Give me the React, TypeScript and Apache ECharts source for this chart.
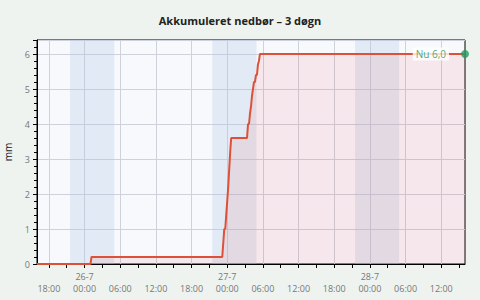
import React, { useEffect, useRef } from "react";
import * as echarts from "echarts";

const TITLE = "Akkumuleret nedbør – 3 døgn";
const X_MIN = "2024-07-25T16:00";
const X_MAX = "2024-07-28T16:00";

const times = [
  "2024-07-25T16:00", "2024-07-26T01:00", "2024-07-26T01:10", "2024-07-26T23:10",
  "2024-07-26T23:30", "2024-07-26T23:40", "2024-07-27T00:00", "2024-07-27T00:10",
  "2024-07-27T00:20", "2024-07-27T00:30", "2024-07-27T00:40", "2024-07-27T03:20",
  "2024-07-27T03:30", "2024-07-27T03:40", "2024-07-27T03:50", "2024-07-27T04:00",
  "2024-07-27T04:10", "2024-07-27T04:20", "2024-07-27T04:30", "2024-07-27T04:40",
  "2024-07-27T04:50", "2024-07-27T05:00", "2024-07-27T05:10", "2024-07-27T05:20",
  "2024-07-27T05:30", "2024-07-28T16:00",
];
const values = [
  0, 0, 0.2, 0.2,
  1.0, 1.0, 1.8, 2.2,
  2.7, 3.2, 3.6, 3.6,
  4.0, 4.0, 4.3, 4.5,
  4.8, 5.0, 5.2, 5.2,
  5.4, 5.4, 5.7, 5.8,
  6.0, 6.0,
];

const nightStarts = ["2024-07-25T21:35", "2024-07-26T21:30", "2024-07-27T21:30"];
const nightEnds = ["2024-07-26T05:00", "2024-07-27T04:55", "2024-07-28T04:55"];

// labelled (major) ticks, every 6 hours
const labelTimes = [
  "2024-07-25T18:00", "2024-07-26T00:00", "2024-07-26T06:00", "2024-07-26T12:00",
  "2024-07-26T18:00", "2024-07-27T00:00", "2024-07-27T06:00", "2024-07-27T12:00",
  "2024-07-27T18:00", "2024-07-28T00:00", "2024-07-28T06:00", "2024-07-28T12:00",
];
// tick marks, every 3 hours
const tickTimes = [
  "2024-07-25T18:00", "2024-07-25T21:00", "2024-07-26T00:00", "2024-07-26T03:00",
  "2024-07-26T06:00", "2024-07-26T09:00", "2024-07-26T12:00", "2024-07-26T15:00",
  "2024-07-26T18:00", "2024-07-26T21:00", "2024-07-27T00:00", "2024-07-27T03:00",
  "2024-07-27T06:00", "2024-07-27T09:00", "2024-07-27T12:00", "2024-07-27T15:00",
  "2024-07-27T18:00", "2024-07-27T21:00", "2024-07-28T00:00", "2024-07-28T03:00",
  "2024-07-28T06:00", "2024-07-28T09:00", "2024-07-28T12:00", "2024-07-28T15:00",
];

const Y_MAX = 6.4;

const ts = (s: string) => new Date(s).getTime();
const pad = (n: number) => (n < 10 ? "0" + n : "" + n);

export default function App() {
  const ref = useRef<HTMLDivElement>(null);
  useEffect(() => {
    document.body.style.margin = "0";
    const chart = echarts.init(ref.current!, null, { renderer: "svg" });
    const lineData = times.map((t, i) => [ts(t), values[i]]);
    const last = lineData[lineData.length - 1];
    const font = "Open Sans";
    chart.setOption({
      animation: false,
      backgroundColor: "#eef3ef",
      textStyle: { fontFamily: font },
      title: {
        text: TITLE,
        left: "center",
        top: 10,
        textStyle: { fontSize: 11, fontWeight: "bold", color: "#222", fontFamily: font },
      },
      grid: {
        left: 37,
        right: 15,
        top: 40,
        bottom: 36,
        outerBoundsMode: "none",
        containLabel: false,
        show: true,
        backgroundColor: "#f7f9fd",
        borderColor: "#000",
        borderWidth: 1,
      },
      xAxis: [
        {
          type: "value",
          min: ts(X_MIN),
          max: ts(X_MAX),
          axisLine: { show: true, onZero: false, lineStyle: { color: "#000", width: 1 } },
          axisTick: {
            show: true,
            length: 4,
            lineStyle: { color: "#000" },
            customValues: tickTimes.map(ts),
          },
          minorTick: { show: false },
          splitLine: { show: false },
          axisLabel: {
            color: "#777",
            fontSize: 9,
            lineHeight: 12,
            margin: 6,
            hideOverlap: false,
            customValues: labelTimes.map(ts),
            formatter: (v: number) => {
              const d = new Date(v);
              const hh = pad(d.getHours()) + ":" + pad(d.getMinutes());
              if (d.getHours() === 0) return d.getDate() + "-" + (d.getMonth() + 1) + "\n" + hh;
              return " \n" + hh;
            },
          },
        },
        {
          type: "value",
          position: "bottom",
          min: ts(X_MIN),
          max: ts(X_MAX),
          axisLine: { show: false, onZero: false },
          axisTick: { show: false, customValues: labelTimes.map(ts) },
          axisLabel: { show: false, customValues: labelTimes.map(ts) },
          minorTick: { show: false },
          splitLine: { show: true, lineStyle: { color: "#cdd2db", width: 1 } },
        },
      ],
      yAxis: {
        type: "value",
        min: 0,
        max: Y_MAX,
        interval: 1,
        name: "mm",
        nameLocation: "middle",
        nameGap: 24,
        nameTextStyle: { color: "#222", fontSize: 10, fontFamily: font },
        axisLine: { show: true, lineStyle: { color: "#000" } },
        axisTick: { show: true, length: 4, lineStyle: { color: "#000" } },
        minorTick: { show: true, splitNumber: 5, length: 3, lineStyle: { color: "#000" } },
        splitLine: { show: true, lineStyle: { color: "#cdd2db" } },
        axisLabel: { color: "#777", fontSize: 9, margin: 7, showMaxLabel: false },
      },
      series: [
        {
          type: "line",
          z: 1,
          xAxisIndex: 0,
          data: lineData,
          silent: true,
          symbol: "none",
          showSymbol: false,
          lineStyle: { color: "rgba(0,0,0,0)", width: 0 },
          markArea: {
            silent: true,
            itemStyle: { color: "rgba(180,200,230,0.3)", opacity: 1 },
            data: nightStarts.map((s, i) => [{ xAxis: ts(s) }, { xAxis: ts(nightEnds[i]) }]),
          },
        },
        {
          type: "line",
          z: 2,
          xAxisIndex: 0,
          data: lineData,
          showSymbol: false,
          symbol: "none",
          lineStyle: { color: "#dc5138", width: 2 },
          areaStyle: { color: "rgba(230,60,60,0.13)" },
        },
        {
          type: "scatter",
          z: 3,
          xAxisIndex: 0,
          data: [last],
          symbolSize: 8,
          itemStyle: { color: "#1f9d5c" },
          label: {
            show: true,
            position: "left",
            distance: 12,
            color: "#1a9656",
            fontSize: 10,
            backgroundColor: "#ffffff",
            padding: [2, 3, 1, 3],
            formatter: (p: any) => "Nu " + Number(p.value[1]).toFixed(1).replace(".", ","),
          },
        },
      ],
    });
    return () => chart.dispose();
  }, []);
  return <div ref={ref} style={{ width: 480, height: 300 }} />;
}
